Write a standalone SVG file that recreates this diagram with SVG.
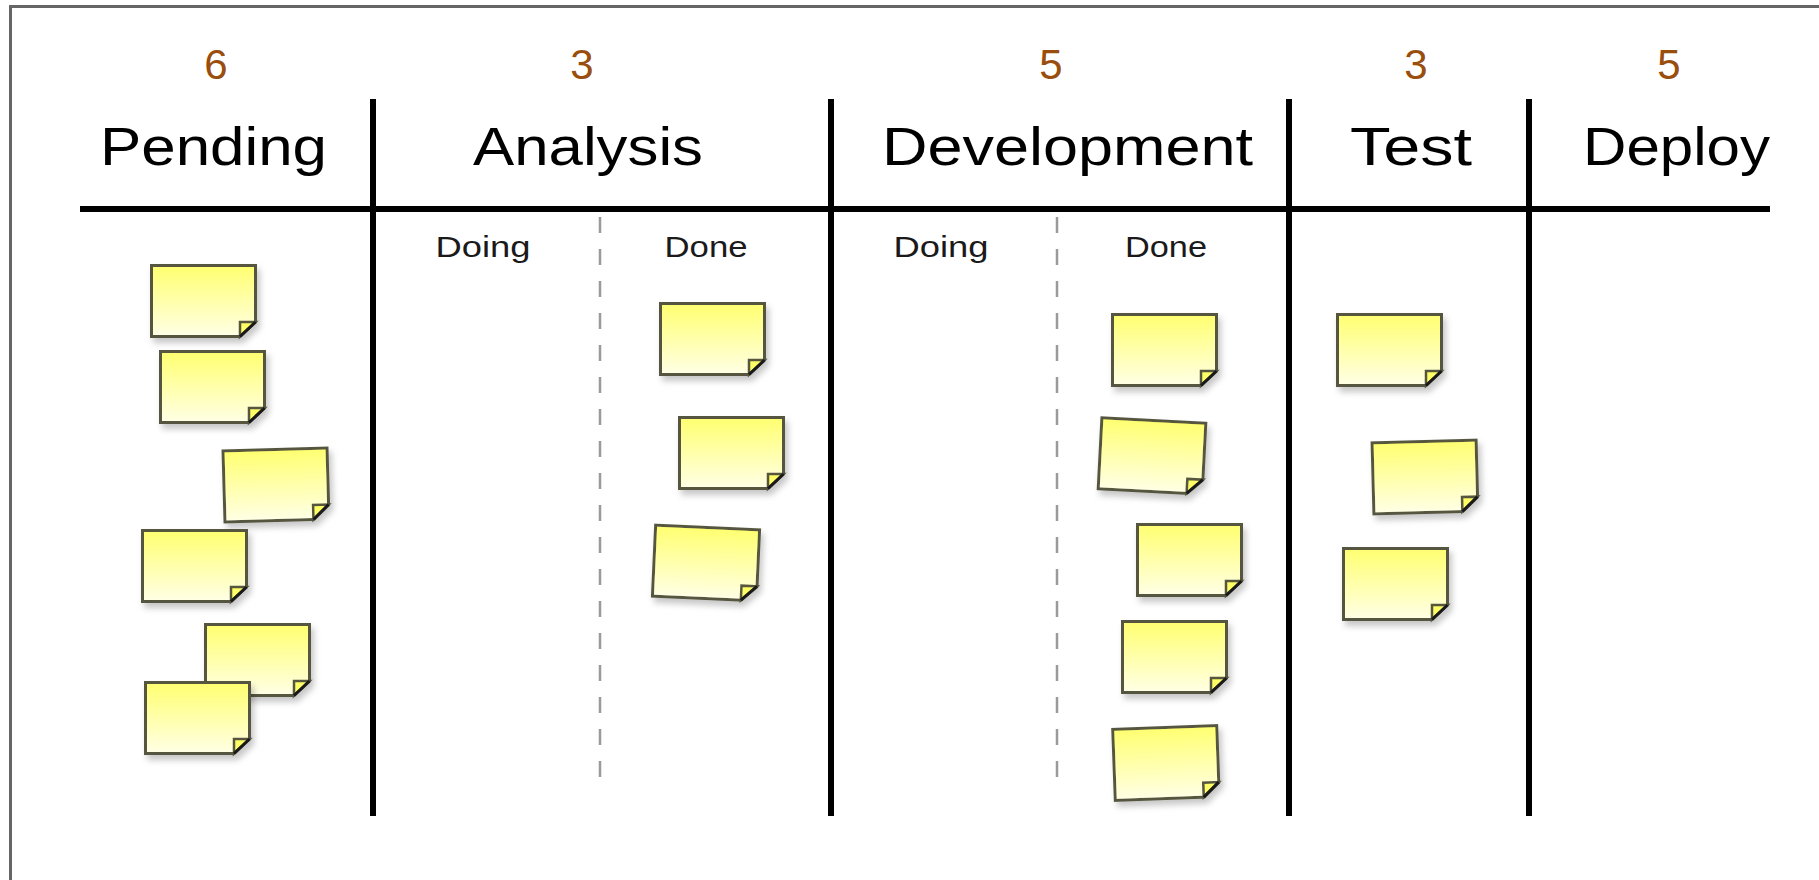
<svg xmlns="http://www.w3.org/2000/svg" xmlns:xlink="http://www.w3.org/1999/xlink" width="1819" height="880" viewBox="0 0 1819 880">
<style>
.num{font-family:"Liberation Sans",Arial,sans-serif;font-size:42px;fill:#9a4e0e;text-anchor:middle}
.title{font-family:"Liberation Sans",Arial,sans-serif;font-size:54px;fill:#000;text-anchor:middle}
.sub{font-family:"Liberation Sans",Arial,sans-serif;font-size:29px;fill:#1a1a1a;text-anchor:middle}
.div{stroke:#000;stroke-width:6;fill:none}
.dash{stroke:#9a9a9a;stroke-width:2.5;stroke-dasharray:16 16;fill:none}
</style>
<defs>
<linearGradient id="ng" x1="0" y1="0" x2="0" y2="1">
<stop offset="0" stop-color="#ffff70"/>
<stop offset="1" stop-color="#ffffe6"/>
</linearGradient>
<filter id="sh" x="-20%" y="-20%" width="150%" height="160%">
<feDropShadow dx="3" dy="5" stdDeviation="3" flood-color="#000" flood-opacity="0.22"/>
</filter>
<g id="note">
<path d="M1.5,1.5 H105.5 V58 L90,72.5 H1.5 Z" fill="url(#ng)" stroke="#56563f" stroke-width="3" filter="url(#sh)"/>
<path d="M90,72.5 V58 H105.5 Z" fill="#ffff66" stroke="#56563f" stroke-width="2.5"/>
<path d="M90,72.5 L105.5,58" stroke="#1a1a1a" stroke-width="3"/>
</g>
</defs>
<rect width="1819" height="880" fill="#fff"/>
<path d="M10.5,880 V6.5 H1819" fill="none" stroke="#666" stroke-width="3"/>

<g id="board-lines">
<path class="div" d="M80,209 H1770"/>
<path class="div" d="M373,99 V816"/>
<path class="div" d="M831,99 V816"/>
<path class="div" d="M1289,99 V816"/>
<path class="div" d="M1529,99 V816"/>
<path class="dash" d="M600,217 V785"/>
<path class="dash" d="M1057,217 V785"/>
</g>

<g id="col-pending">
<text class="num" x="216" y="79">6</text>
<text class="title" x="213.5" y="165" textLength="227" lengthAdjust="spacingAndGlyphs">Pending</text>
</g>
<g id="col-analysis">
<text class="num" x="582" y="79">3</text>
<text class="title" x="588" y="165" textLength="230" lengthAdjust="spacingAndGlyphs">Analysis</text>
<text class="sub" x="483" y="257" textLength="95" lengthAdjust="spacingAndGlyphs">Doing</text>
<text class="sub" x="706" y="257" textLength="83" lengthAdjust="spacingAndGlyphs">Done</text>
</g>
<g id="col-development">
<text class="num" x="1051" y="79">5</text>
<text class="title" x="1067.5" y="165" textLength="371" lengthAdjust="spacingAndGlyphs">Development</text>
<text class="sub" x="941" y="257" textLength="95" lengthAdjust="spacingAndGlyphs">Doing</text>
<text class="sub" x="1166" y="257" textLength="82" lengthAdjust="spacingAndGlyphs">Done</text>
</g>
<g id="col-test">
<text class="num" x="1416" y="79">3</text>
<text class="title" x="1411" y="165" textLength="122" lengthAdjust="spacingAndGlyphs">Test</text>
</g>
<g id="col-deploy">
<text class="num" x="1669" y="79">5</text>
<text class="title" x="1676.5" y="165" textLength="187" lengthAdjust="spacingAndGlyphs">Deploy</text>
</g>

<g id="note-p1" transform="translate(150,264)"><use xlink:href="#note"/></g>
<g id="note-p2" transform="translate(159,350)"><use xlink:href="#note"/></g>
<g id="note-p3" transform="translate(276,485) rotate(-1.6) translate(-53.5,-37)"><use xlink:href="#note"/></g>
<g id="note-p4" transform="translate(141,529)"><use xlink:href="#note"/></g>
<g id="note-p5" transform="translate(204,623)"><use xlink:href="#note"/></g>
<g id="note-p6" transform="translate(144,681)"><use xlink:href="#note"/></g>

<g id="note-a1" transform="translate(659,302)"><use xlink:href="#note"/></g>
<g id="note-a2" transform="translate(678,416)"><use xlink:href="#note"/></g>
<g id="note-a3" transform="translate(706,563) rotate(2.6) translate(-53.5,-37)"><use xlink:href="#note"/></g>

<g id="note-d1" transform="translate(1111,313)"><use xlink:href="#note"/></g>
<g id="note-d2" transform="translate(1152,456) rotate(3) translate(-53.5,-37)"><use xlink:href="#note"/></g>
<g id="note-d3" transform="translate(1136,523)"><use xlink:href="#note"/></g>
<g id="note-d4" transform="translate(1121,620)"><use xlink:href="#note"/></g>
<g id="note-d5" transform="translate(1166,763) rotate(-2.1) translate(-53.5,-37)"><use xlink:href="#note"/></g>

<g id="note-t1" transform="translate(1336,313)"><use xlink:href="#note"/></g>
<g id="note-t2" transform="translate(1425,477) rotate(-1.5) translate(-53.5,-37)"><use xlink:href="#note"/></g>
<g id="note-t3" transform="translate(1342,547)"><use xlink:href="#note"/></g>
</svg>
